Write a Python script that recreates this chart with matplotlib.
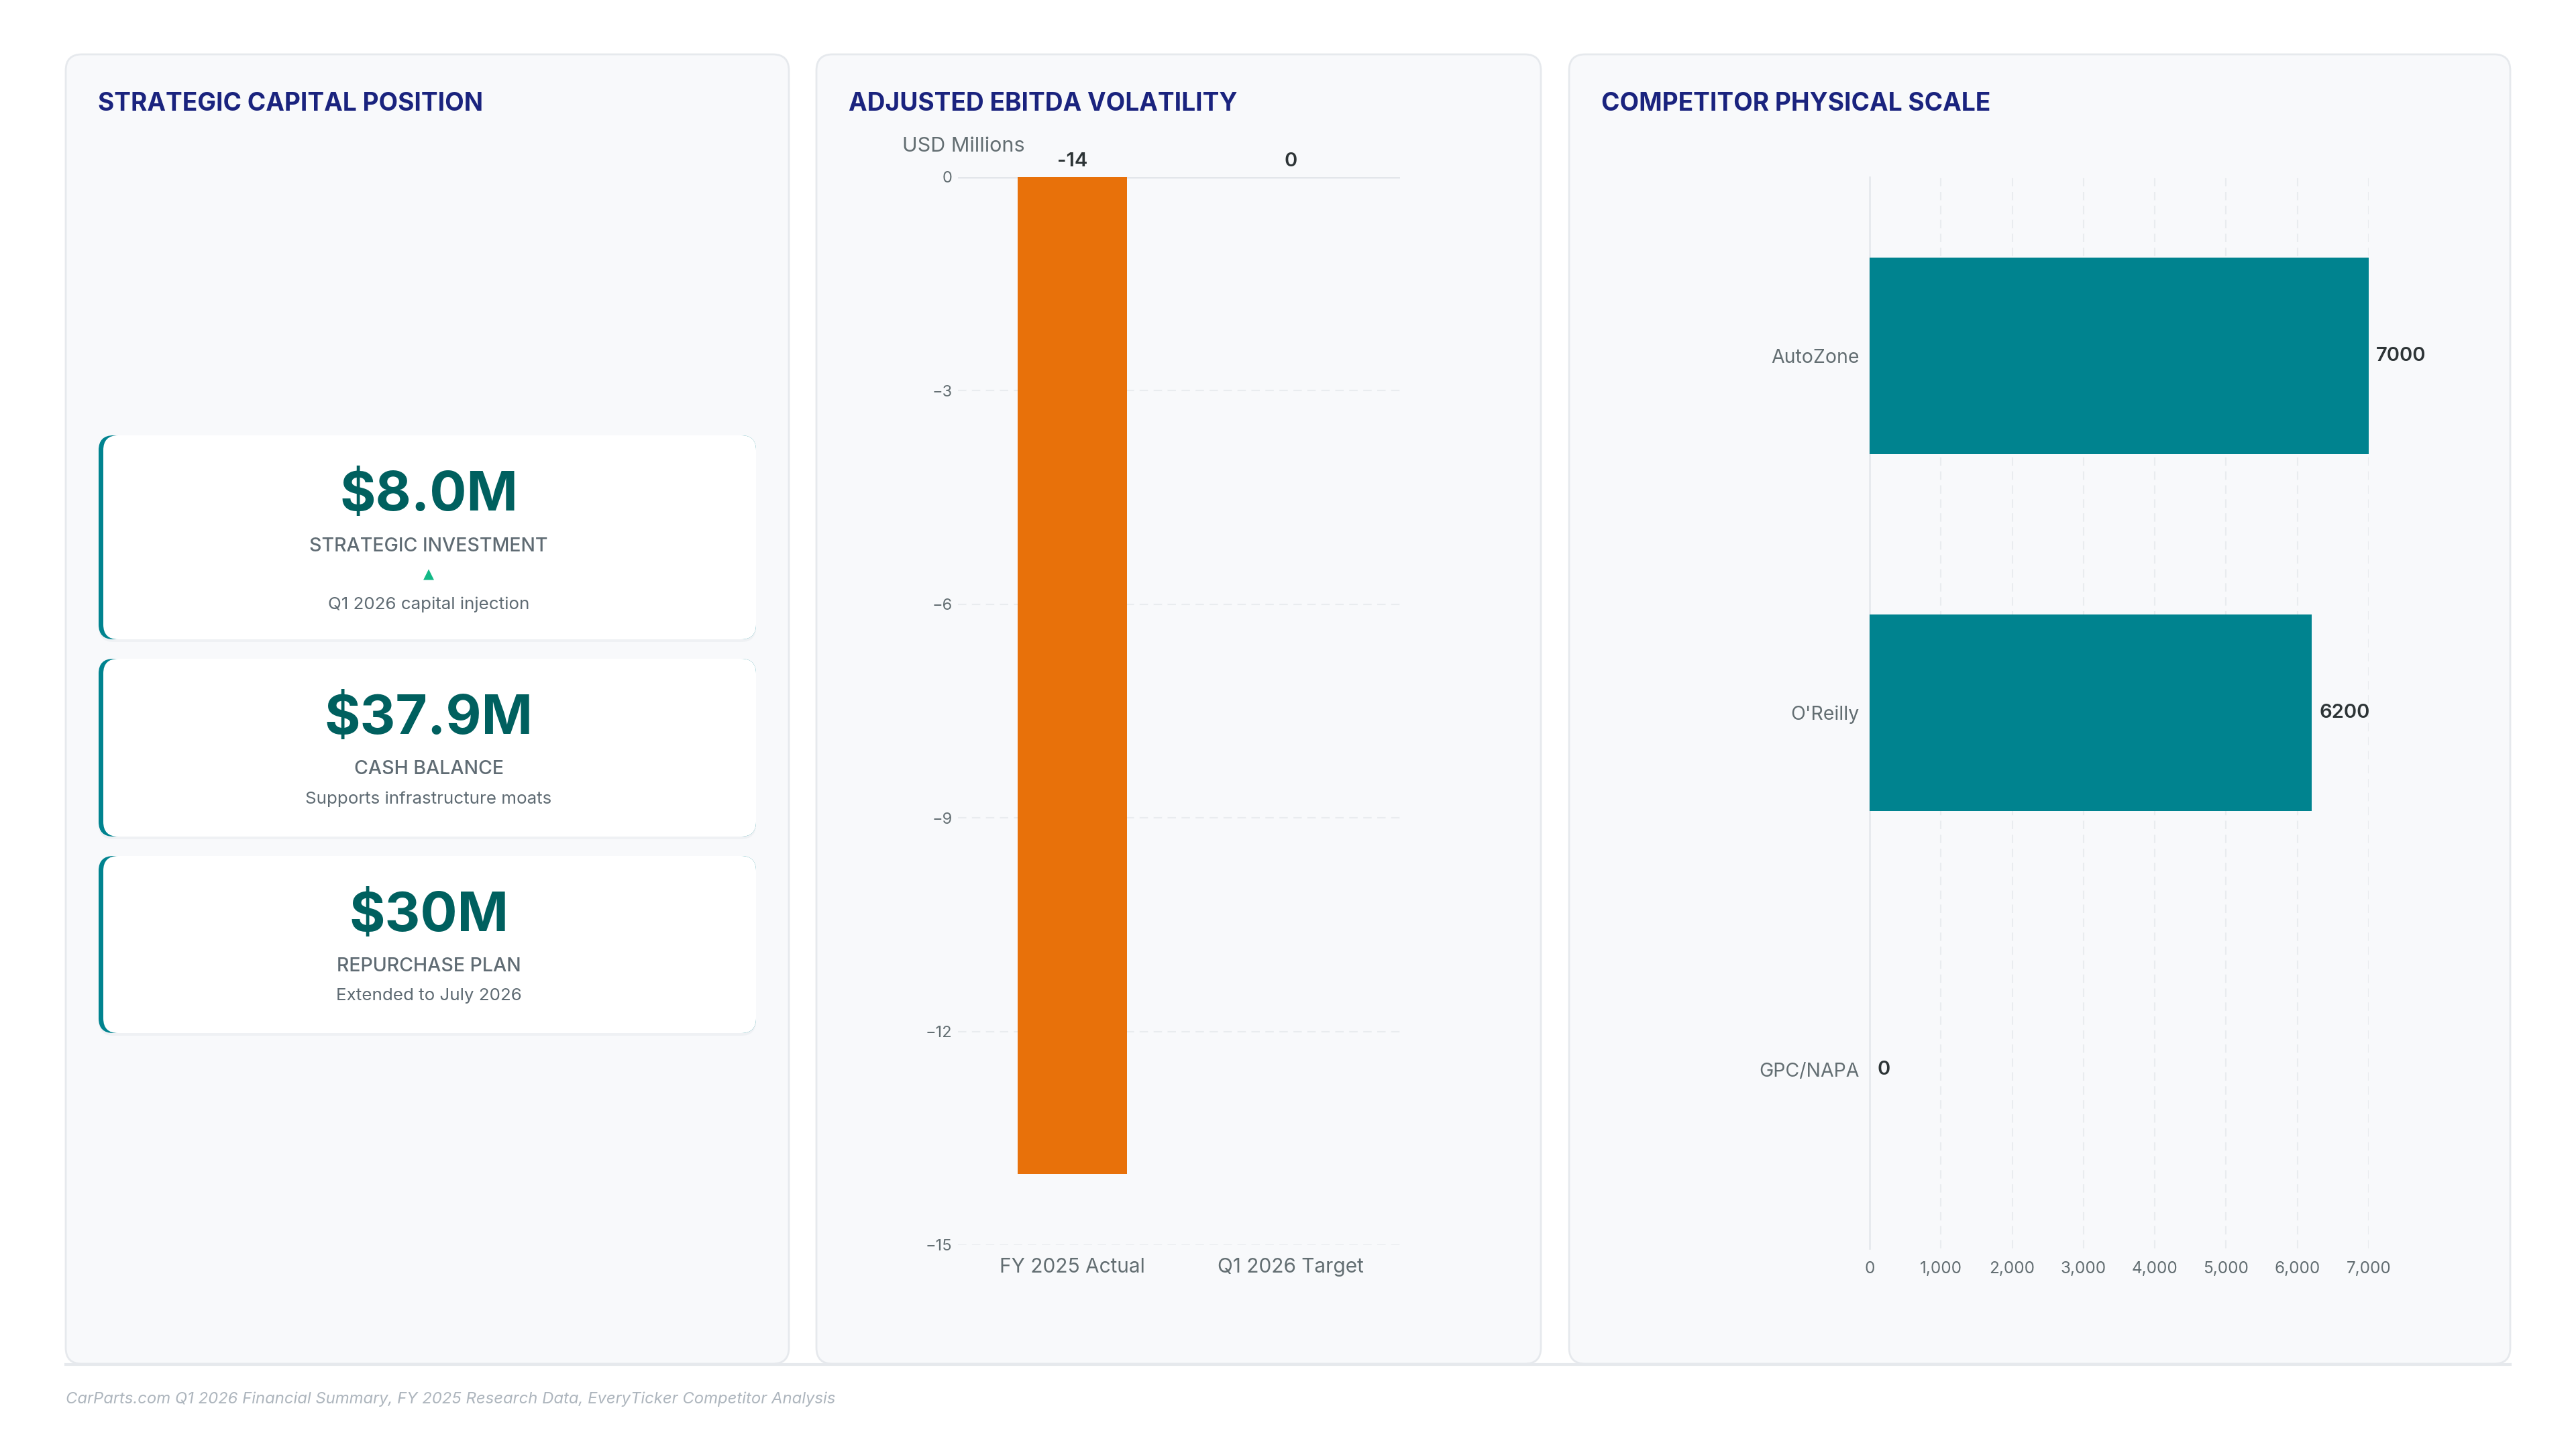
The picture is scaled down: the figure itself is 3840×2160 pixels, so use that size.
import matplotlib
matplotlib.use("Agg")
import matplotlib.pyplot as plt
from matplotlib.patches import FancyBboxPatch
from matplotlib.ticker import FuncFormatter

# fonts
plt.rcParams["font.family"] = ["Inter", "DejaVu Sans"]

# ---- data ----
kpi_values = ["$8.0M", "$37.9M", "$30M"]
kpi_labels = ["STRATEGIC INVESTMENT", "CASH BALANCE", "REPURCHASE PLAN"]
kpi_trends = ["▲", "", ""]
kpi_notes = ["Q1 2026 capital injection", "Supports infrastructure moats", "Extended to July 2026"]

ebitda_periods = ["FY 2025 Actual", "Q1 2026 Target"]
ebitda_values = [-14, 0]
ebitda_ticks = [0, -3, -6, -9, -12, -15]

competitors = ["AutoZone", "O'Reilly", "GPC/NAPA"]
store_counts = [7000, 6200, 0]
store_ticks = [0, 1000, 2000, 3000, 4000, 5000, 6000, 7000]

titles = ["STRATEGIC CAPITAL POSITION", "ADJUSTED EBITDA VOLATILITY", "COMPETITOR PHYSICAL SCALE"]
source = "CarParts.com Q1 2026 Financial Summary, FY 2025 Research Data, EveryTicker Competitor Analysis"

# ---- colours ----
NAVY = "#1a237e"
TEAL = "#00838f"
DARK_TEAL = "#00605f"
ORANGE = "#e8710a"
GREY = "#5f6b73"
TICK = "#636e72"
VALUE = "#2d3436"
GRID = "#e9ecef"

W, H = 3840, 2160
fig = plt.figure(figsize=(W / 100, H / 100), dpi=100)
fig.patch.set_facecolor("white")


def frac(x0, y0, x1, y1):
    # pixel box (top-left origin) -> figure fraction rect
    return [x0 / W, 1 - y1 / H, (x1 - x0) / W, (y1 - y0) / H]


# background layer in pixel units
bg = fig.add_axes([0, 0, 1, 1], zorder=0)
bg.set_xlim(0, W)
bg.set_ylim(H, 0)
bg.axis("off")

panels = [(98, 1176), (1217, 2297), (2339, 3742)]
top, bottom = 81, 2033
for (x0, x1), title in zip(panels, titles):
    bg.add_patch(FancyBboxPatch((x0, top), x1 - x0, bottom - top,
                                boxstyle="round,pad=0,rounding_size=24",
                                fc="#f8f9fb", ec="#e6e9ed", lw=2))
    bg.text(x0 + 48, 155, title, fontsize=26.7, fontweight="bold",
            color=NAVY, va="center", ha="left")
bg.plot([98, 3742], [bottom + 1, bottom + 1], color="#e6e9ed", lw=3)

# ---- KPI cards ----
card_x0, card_x1 = 147, 1127
card_tops = [649, 982, 1276]
card_heights = [304, 265, 264]
cx = (card_x0 + card_x1) / 2
for i in range(len(kpi_values)):
    t, h = card_tops[i], card_heights[i]
    # soft shadow
    bg.add_patch(FancyBboxPatch((card_x0, t + 4), card_x1 - card_x0, h,
                                boxstyle="round,pad=0,rounding_size=22",
                                fc="#eceff2", ec="none", alpha=0.7))
    # teal left border + white card
    bg.add_patch(FancyBboxPatch((card_x0, t), card_x1 - card_x0, h,
                                boxstyle="round,pad=0,rounding_size=22",
                                fc=TEAL, ec="none"))
    bg.add_patch(FancyBboxPatch((card_x0 + 7, t), card_x1 - card_x0 - 7, h,
                                boxstyle="round,pad=0,rounding_size=22",
                                fc="white", ec="none"))
    bg.text(cx + 2, t + 91, kpi_values[i], fontsize=59, fontweight="bold",
            color=DARK_TEAL, ha="center", va="center")
    bg.text(cx + 2, t + 165, kpi_labels[i], fontsize=20.5, fontweight="medium",
            color=GREY, ha="center", va="center")
    y_note = t + 209
    if kpi_trends[i]:
        bg.text(cx + 2, t + 207, kpi_trends[i], fontsize=15, color="#12b886",
                ha="center", va="center", family="DejaVu Sans")
        y_note = t + 252
    bg.text(cx + 2, y_note, kpi_notes[i], fontsize=18.7, color=GREY,
            ha="center", va="center")

# ---- EBITDA bar chart ----
ax2 = fig.add_axes(frac(1428, 264, 2087, 1856), zorder=1)
ax2.set_facecolor("none")
xpos = list(range(len(ebitda_periods)))
ax2.bar(xpos, ebitda_values, width=0.5, color=ORANGE, zorder=3)
ax2.set_xlim(-0.525, 1.5)
ax2.set_ylim(-15, 0)
ax2.set_yticks(ebitda_ticks)
ax2.set_xticks(xpos)
ax2.set_xticklabels(ebitda_periods)
ax2.grid(axis="y", color=GRID, lw=1.5, ls=(0, (6, 4)))
ax2.axhline(0, color="#e3e6ea", lw=2.5, zorder=2)
for s in ax2.spines.values():
    s.set_visible(False)
ax2.tick_params(axis="y", length=0, pad=6, labelsize=17, labelcolor=TICK)
ax2.tick_params(axis="x", length=0, pad=14, labelsize=21.5, labelcolor=TICK)
for x, v in zip(xpos, ebitda_values):
    ax2.annotate(str(v), (x, max(v, 0)), xytext=(0, 7), textcoords="offset points",
                 ha="center", va="bottom", fontsize=21, fontweight="semibold", color=VALUE)
ax2.text(0.013, 1.029, "USD Millions", transform=ax2.transAxes, fontsize=22,
         color=TICK, ha="center", va="center")

# ---- competitor stores ----
ax3 = fig.add_axes(frac(2787, 264, 3531, 1861), zorder=1)
ax3.set_facecolor("none")
ypos = list(range(len(competitors)))
ax3.barh(ypos, store_counts, height=0.55, color=TEAL, zorder=3)
ax3.set_ylim(2.5, -0.5)
ax3.set_xlim(0, 7000)
ax3.set_yticks(ypos)
ax3.set_yticklabels(competitors)
ax3.set_xticks(store_ticks)
ax3.xaxis.set_major_formatter(FuncFormatter(lambda v, p: f"{int(v):,}"))
ax3.grid(axis="x", color=GRID, lw=1.5, ls=(0, (6, 4)))
for name, s in ax3.spines.items():
    s.set_visible(name == "left")
ax3.spines["left"].set_color("#e6e9ed")
ax3.spines["left"].set_linewidth(2)
ax3.tick_params(axis="y", length=0, pad=11, labelsize=20.5, labelcolor=TICK)
ax3.tick_params(axis="x", length=0, pad=14, labelsize=17.5, labelcolor=TICK)
for y, v in zip(ypos, store_counts):
    ax3.annotate(str(v), (v, y), xytext=(8, 0), textcoords="offset points",
                 ha="left", va="center", fontsize=21, fontweight="semibold", color=VALUE)

# source line
bg.text(98, 2086, source, fontsize=17.2, style="italic", color="#adb5bd",
        ha="left", va="center")

fig.savefig("out.png", dpi=100, facecolor="white")
